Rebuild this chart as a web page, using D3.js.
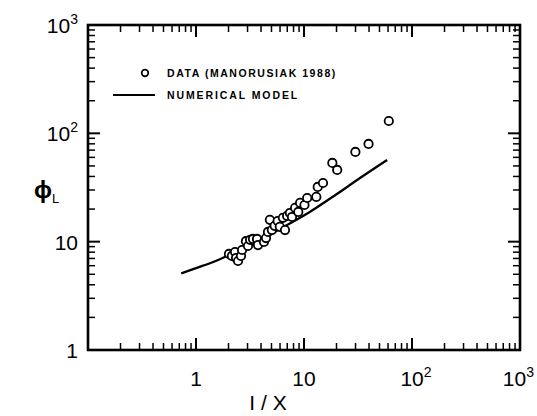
<!DOCTYPE html>
<html>
<head>
<meta charset="utf-8">
<script src="https://cdn.jsdelivr.net/npm/d3@7"></script>
<style>
  html, body { margin: 0; padding: 0; background: #fff; }
  svg { display: block; }
  text { font-family: "Liberation Sans", Arial, sans-serif; fill: #000; }
</style>
</head>
<body>
<svg id="chart" width="537" height="416"></svg>
<script>
// ---- Data ----
const dataX = [2.02, 2.15, 2.30, 2.35, 2.45, 2.61, 2.67, 2.90, 3.03, 3.17, 3.37, 3.67, 3.75,
  4.26, 4.45, 4.64, 4.83, 5.04, 5.35, 5.70, 5.97, 6.38, 6.67, 6.98, 7.40, 7.74, 8.27, 8.85,
  9.2, 10.1, 10.7, 13.0, 13.4, 15.0, 18.3, 20.3, 29.9, 39.6, 61];
const dataY = [7.70, 7.38, 8.03, 7.07, 6.63, 7.38, 8.38, 10.1, 9.12, 10.4, 10.6, 10.6, 9.3,
  9.94, 10.8, 12.3, 15.9, 12.8, 14.0, 15.5, 13.7, 16.6, 12.8, 17.3, 18.4, 16.9, 20.5, 18.8,
  22.8, 21.8, 25.3, 25.9, 32.0, 34.8, 53.3, 45.9, 67.3, 79.8, 130];
const modelX = [0.73, 1.0, 1.5, 2.07, 3.0, 6.5, 11.4, 20, 33, 58.8];
const modelY = [5.1, 5.7, 6.6, 7.6, 8.95, 13.7, 18.9, 27.4, 38.7, 56.8];
const xTickValues = [1, 10, 100, 1000];
const xTickLabels = ["1", "10", "10|2", "10|3"];
const yTickValues = [1, 10, 100, 1000];
const yTickLabels = ["1", "10", "10|2", "10|3"];
const legendLabels = ["DATA (MANORUSIAK 1988)", "NUMERICAL MODEL"];
const xAxisTitle = "I / X";

// ---- Layout ----
const svg = d3.select("#chart");
const L = 88, R = 520, T = 25, B = 350;
const x = d3.scaleLog().domain([0.1, 1000]).range([L, R]);
const y = d3.scaleLog().domain([1, 1000]).range([B, T]);

function logTicks(lo, hi) {
  const out = [];
  for (let e = Math.log10(lo); e < Math.log10(hi); e++) {
    for (let m = 1; m < 10; m++) out.push(m * Math.pow(10, e));
  }
  out.push(hi);
  return out;
}
const xt = logTicks(0.1, 1000);
const yt = logTicks(1, 1000);
const isMajor = v => Math.abs(Math.log10(v) - Math.round(Math.log10(v))) < 1e-9;

const g = svg.append("g");

function drawTicks(vals, scale, orient) {
  vals.forEach(v => {
    const major = isMajor(v);
    const len = major ? 12 : 7;
    const p = scale(v);
    let x1, y1, x2, y2;
    if (orient === "bottom") { x1 = x2 = p; y1 = B; y2 = B - len; }
    if (orient === "top") { x1 = x2 = p; y1 = T; y2 = T + len; }
    if (orient === "left") { y1 = y2 = p; x1 = L; x2 = L + len; }
    if (orient === "right") { y1 = y2 = p; x1 = R; x2 = R - len; }
    g.append("line").attr("x1", x1).attr("y1", y1).attr("x2", x2).attr("y2", y2)
      .attr("stroke", "#000").attr("stroke-width", major ? 2 : 1.5);
  });
}
drawTicks(xt, x, "bottom");
drawTicks(xt, x, "top");
drawTicks(yt, y, "left");
drawTicks(yt, y, "right");

g.append("rect").attr("x", L).attr("y", T).attr("width", R - L).attr("height", B - T)
  .attr("fill", "none").attr("stroke", "#000").attr("stroke-width", 2.6);

function label(parent, txt, px, py, anchor) {
  const parts = txt.split("|");
  const t = parent.append("text").attr("x", px).attr("y", py)
    .attr("text-anchor", anchor).attr("font-size", 21);
  t.append("tspan").text(parts[0]);
  if (parts[1]) t.append("tspan").attr("dy", -9).attr("font-size", 14).text(parts[1]);
  return t;
}
xTickValues.forEach((v, i) => {
  const hasSup = xTickLabels[i].includes("|");
  if (i === xTickValues.length - 1) {
    label(g, xTickLabels[i], 534, 386, "end");
  } else {
    label(g, xTickLabels[i], x(v) + (hasSup ? 4 : 0), 386, "middle");
  }
});
yTickValues.forEach((v, i) => {
  label(g, yTickLabels[i], 78, y(v) + 8, "end");
});

g.append("text").attr("x", 268).attr("y", 410).attr("text-anchor", "middle")
  .attr("font-size", 21).text(xAxisTitle);
const yt1 = g.append("text").attr("x", 34).attr("y", 198).attr("font-size", 24)
  .attr("font-family", "DejaVu Sans").attr("font-weight", "bold");
yt1.append("tspan").text("\u03D5");
yt1.append("tspan").attr("dy", 5).attr("font-size", 13).attr("font-weight", "normal").text("L");

const line = d3.line().x(d => x(d[0])).y(d => y(d[1])).curve(d3.curveMonotoneX);
g.append("path").datum(modelX.map((v, i) => [v, modelY[i]]))
  .attr("d", line).attr("fill", "none").attr("stroke", "#000").attr("stroke-width", 2.3);

g.selectAll("circle.pt").data(dataX.map((v, i) => [v, dataY[i]])).enter()
  .append("circle").attr("class", "pt")
  .attr("cx", d => x(d[0])).attr("cy", d => y(d[1])).attr("r", 4.2)
  .attr("fill", "#fff").attr("stroke", "#000").attr("stroke-width", 1.8);

g.append("circle").attr("cx", 145).attr("cy", 73).attr("r", 3.3)
  .attr("fill", "#fff").attr("stroke", "#000").attr("stroke-width", 1.7);
g.append("text").attr("x", 167).attr("y", 77).attr("font-size", 10.5).attr("font-weight", "bold")
  .attr("letter-spacing", 1.55).style("white-space", "pre").text(legendLabels[0]);
g.append("line").attr("x1", 113).attr("x2", 155).attr("y1", 95).attr("y2", 95)
  .attr("stroke", "#000").attr("stroke-width", 2);
g.append("text").attr("x", 167).attr("y", 99).attr("font-size", 10.5).attr("font-weight", "bold")
  .attr("letter-spacing", 1.9).style("white-space", "pre").text(legendLabels[1]);
</script>
</body>
</html>
